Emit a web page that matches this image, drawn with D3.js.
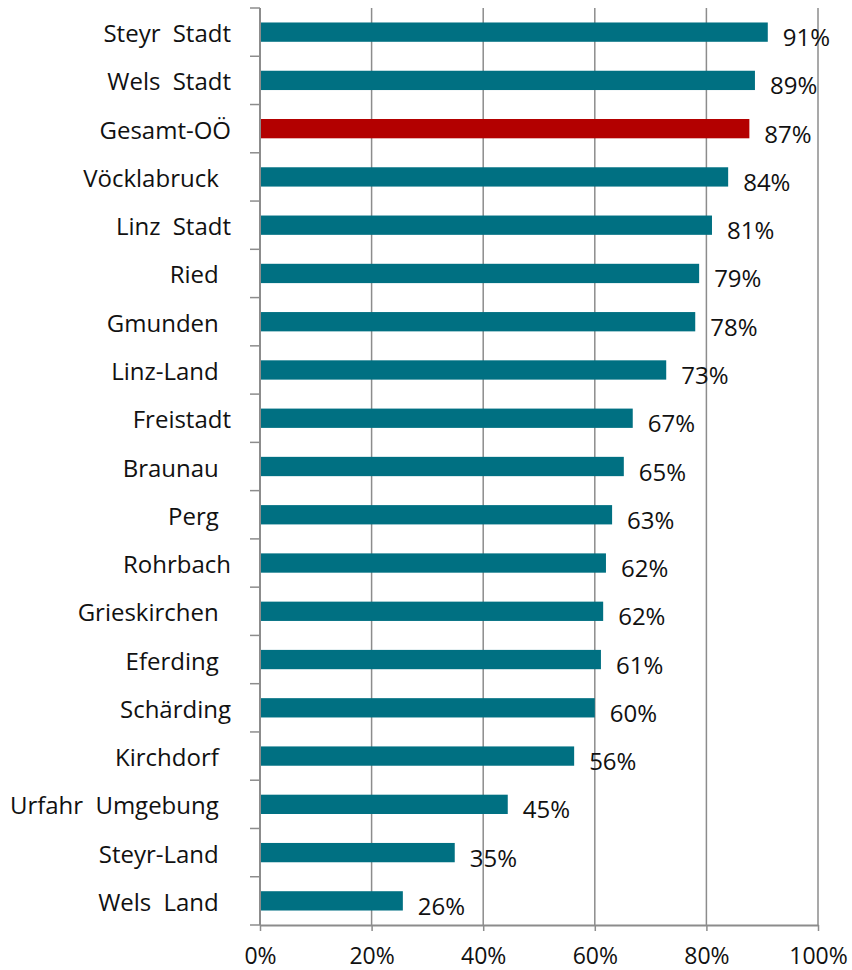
<!DOCTYPE html>
<html>
<head>
<meta charset="utf-8">
<script src="https://cdn.jsdelivr.net/npm/d3@7"></script>
<style>
  body { margin: 0; background: #fff; }
  text { font-family: "Open Sans", sans-serif; fill: #111; }
</style>
</head>
<body>
<div id="chart"></div>
<script>
// districts, top to bottom (trailing spaces kept as in the source labels)
var districts = ["Steyr Stadt", "Wels Stadt", "Gesamt-OÖ", "Vöcklabruck ", "Linz Stadt", "Ried ",
    "Gmunden ", "Linz-Land ", "Freistadt", "Braunau ", "Perg ", "Rohrbach", "Grieskirchen ",
    "Eferding ", "Schärding", "Kirchdorf ", "Urfahr Umgebung ", "Steyr-Land ", "Wels Land "];
var shares = [0.91, 0.887, 0.877, 0.839, 0.81, 0.787, 0.78, 0.728, 0.668, 0.652, 0.631, 0.62,
    0.615, 0.611, 0.60, 0.563, 0.444, 0.349, 0.256];
var shareLabels = ["91%", "89%", "87%", "84%", "81%", "79%", "78%", "73%", "67%", "65%", "63%",
    "62%", "62%", "61%", "60%", "56%", "45%", "35%", "26%"];
var xTicks = [0, 0.2, 0.4, 0.6, 0.8, 1];
var highlight = "Gesamt-OÖ";

var margin = {top: 8, right: 34, bottom: 45, left: 260},
    width = 852 - margin.left - margin.right,
    height = 970 - margin.top - margin.bottom;

var svg = d3.select("#chart")
    .append("svg")
        .attr("width", 852)
        .attr("height", 970)
    .append("g")
        .attr("transform", "translate(" + margin.left + "," + margin.top + ")");

var data = districts.map(function(d, i) { return {name: d, value: shares[i], label: shareLabels[i]}; });

var x = d3.scaleLinear().domain([0, 1]).range([0, width]);
var y = d3.scaleBand().domain(districts).range([0, height]).paddingInner(0.6).paddingOuter(0.3);
var rows = d3.scaleBand().domain(districts).range([0, height]);

var grey = "#8c8c8c";

// vertical gridlines
svg.selectAll(".grid")
    .data(xTicks.slice(1))
    .join("line")
        .attr("x1", d => x(d)).attr("x2", d => x(d))
        .attr("y1", 0).attr("y2", height)
        .attr("stroke", grey).attr("stroke-width", 1.5);

// bars
svg.selectAll(".bar")
    .data(data)
    .join("rect")
        .attr("x", 0)
        .attr("y", d => y(d.name))
        .attr("width", d => x(d.value))
        .attr("height", y.bandwidth())
        .attr("fill", d => d.name === highlight ? "#b30000" : "#007082");

// value labels
svg.selectAll(".val")
    .data(data)
    .join("text")
        .attr("x", d => x(d.value) + 15)
        .attr("y", d => y(d.name) + y.bandwidth() / 2 + 14)
        .style("font-size", "24px")
        .text(d => d.label);

// left axis: line, boundary ticks, names
svg.append("line")
    .attr("x1", 0).attr("x2", 0).attr("y1", 0).attr("y2", height)
    .attr("stroke", grey).attr("stroke-width", 2);
svg.selectAll(".ytick")
    .data(districts.map(d => rows(d)).concat([height]))
    .join("line")
        .attr("x1", -10).attr("x2", 0)
        .attr("y1", d => d).attr("y2", d => d)
        .attr("stroke", grey).attr("stroke-width", 1.5);
svg.selectAll(".name")
    .data(data)
    .join("text")
        .attr("x", -29)
        .attr("y", d => y(d.name) + y.bandwidth() / 2 + 10)
        .attr("text-anchor", "end")
        .style("white-space", "pre")
        .style("word-spacing", "6px")
        .style("font-size", "24px")
        .text(d => d.name);

// bottom axis
var xAxis = svg.append("g")
    .attr("transform", "translate(0," + height + ")")
    .call(d3.axisBottom(x).tickValues(xTicks).tickFormat(d3.format(".0%")).tickSize(6).tickSizeOuter(0));
xAxis.select(".domain").attr("stroke", grey).attr("stroke-width", 2);
xAxis.selectAll(".tick line").attr("stroke", grey).attr("stroke-width", 1.5);
xAxis.selectAll(".tick text")
    .attr("y", 0)
    .attr("dy", null)
    .attr("transform", "translate(0,39)")
    .style("font-family", "'Open Sans', sans-serif")
    .style("font-size", "23px")
    .attr("fill", "#111");
</script>
</body>
</html>
